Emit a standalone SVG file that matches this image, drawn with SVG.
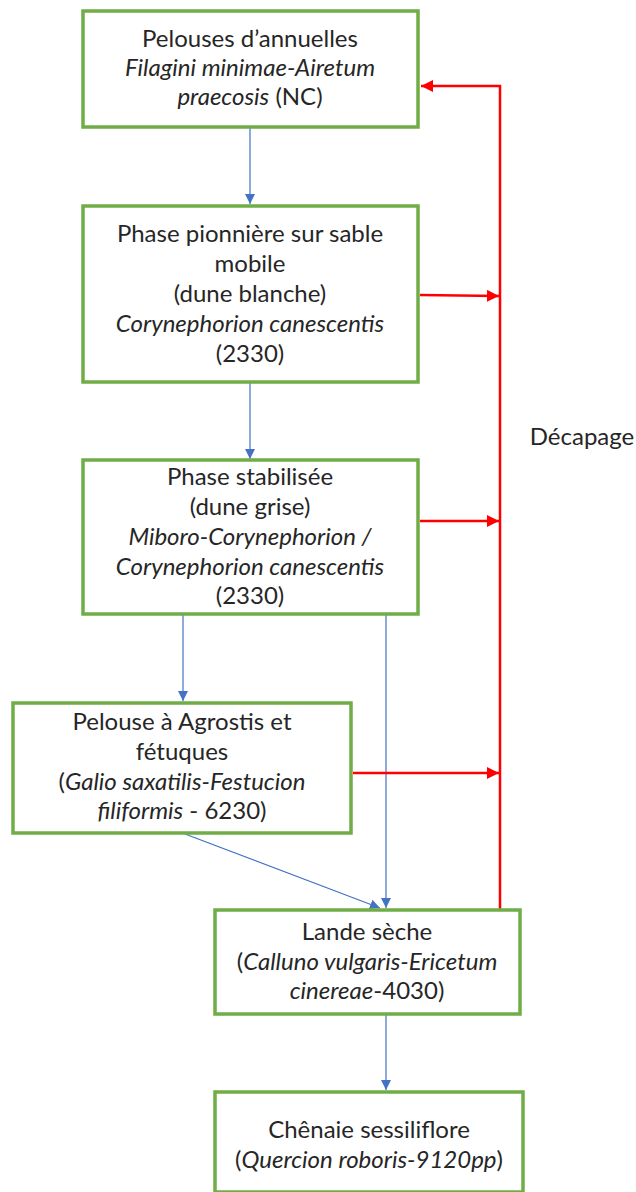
<svg xmlns="http://www.w3.org/2000/svg" width="636" height="1192" viewBox="0 0 636 1192">
<style>
.box{fill:#fff;stroke:#70AD47;stroke-width:3.5}
text{font-family:Lato,"Open Sans",sans-serif;font-size:24px;fill:#262626;text-anchor:middle}
.i{font-style:italic}
.blue{stroke:#4472C4;stroke-width:1.2;fill:none}
.red{stroke:#FF0000;stroke-width:2.5;fill:none}
</style>
<defs>
<marker id="ab" viewBox="0 0 10 10" refX="10" refY="5" markerWidth="10" markerHeight="10" markerUnits="userSpaceOnUse" orient="auto"><path d="M0,0 L10,5 L0,10 z" fill="#4472C4"/></marker>
<marker id="ar" viewBox="0 0 10 10" refX="10" refY="5" markerWidth="12" markerHeight="12" markerUnits="userSpaceOnUse" orient="auto"><path d="M0,0 L10,5 L0,10 z" fill="#FF0000"/></marker>
</defs>
<rect width="636" height="1192" fill="#fff"/>
<g id="connectors">
<line class="blue" x1="250" y1="127" x2="250" y2="204" marker-end="url(#ab)"/>
<line class="blue" x1="250" y1="382" x2="250" y2="459" marker-end="url(#ab)"/>
<line class="blue" x1="183" y1="615" x2="183" y2="701" marker-end="url(#ab)"/>
<line class="blue" x1="386" y1="615" x2="386" y2="908" marker-end="url(#ab)"/>
<line class="blue" x1="185" y1="834" x2="380" y2="908" marker-end="url(#ab)"/>
<line class="blue" x1="386" y1="1015" x2="386" y2="1090" marker-end="url(#ab)"/>
<polyline class="red" points="500,909 500,86 421,86" marker-end="url(#ar)"/>
<line class="red" x1="420" y1="295" x2="499" y2="296" marker-end="url(#ar)"/>
<line class="red" x1="420" y1="521" x2="499" y2="521" marker-end="url(#ar)"/>
<line class="red" x1="353" y1="773" x2="499" y2="773" marker-end="url(#ar)"/>
</g>
<text x="582" y="445">Décapage</text>
<g id="n1">
<rect class="box" x="83" y="11" width="335" height="116"/>
<text x="250" y="47">Pelouses d’annuelles</text>
<text x="250" y="76" class="i">Filagini minimae-Airetum</text>
<text x="250" y="105"><tspan class="i">praecosis</tspan> (NC)</text>
</g>
<g id="n2">
<rect class="box" x="83" y="206" width="335" height="176"/>
<text x="250" y="242">Phase pionnière sur sable</text>
<text x="250" y="272">mobile</text>
<text x="250" y="302">(dune blanche)</text>
<text x="250" y="332" class="i">Corynephorion canescentis</text>
<text x="250" y="362">(2330)</text>
</g>
<g id="n3">
<rect class="box" x="83" y="460" width="335" height="154"/>
<text x="250" y="485">Phase stabilisée</text>
<text x="250" y="515">(dune grise)</text>
<text x="250" y="545" class="i">Miboro-Corynephorion /</text>
<text x="250" y="575" class="i">Corynephorion canescentis</text>
<text x="250" y="604">(2330)</text>
</g>
<g id="n4">
<rect class="box" x="13" y="703" width="338" height="130"/>
<text x="182" y="730">Pelouse à Agrostis et</text>
<text x="182" y="760">fétuques</text>
<text x="182" y="790">(<tspan class="i">Galio saxatilis-Festucion</tspan></text>
<text x="182" y="819"><tspan class="i">filiformis</tspan> - 6230)</text>
</g>
<g id="n5">
<rect class="box" x="215" y="910" width="305" height="104"/>
<text x="367" y="940">Lande sèche</text>
<text x="367" y="970">(<tspan class="i">Calluno vulgaris-Ericetum</tspan></text>
<text x="367" y="999"><tspan class="i">cinereae</tspan>-4030)</text>
</g>
<g id="n6">
<rect class="box" x="215" y="1092" width="308" height="100"/>
<text x="369" y="1138">Chênaie sessiliflore</text>
<text x="369" y="1168">(<tspan class="i">Quercion roboris-9120pp</tspan>)</text>
</g>
</svg>
